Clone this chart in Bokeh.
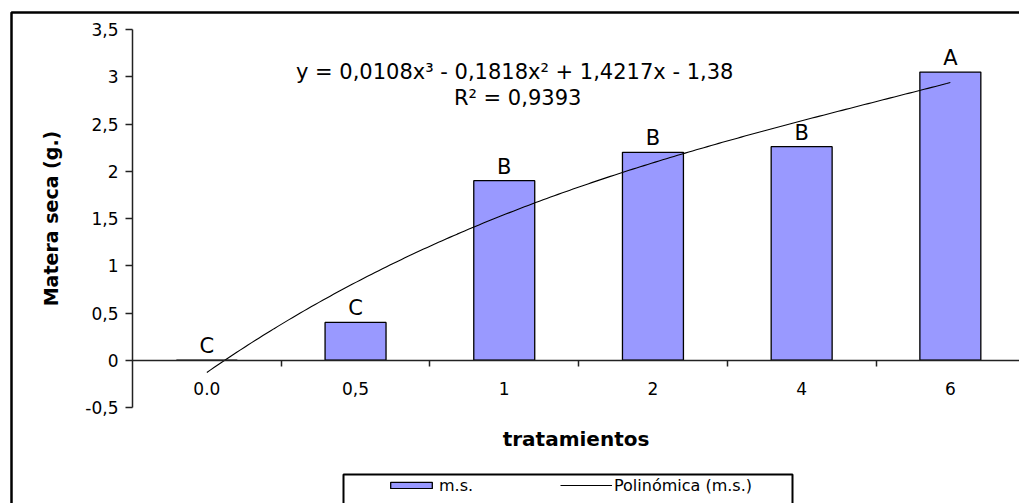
from bokeh.plotting import figure
from bokeh.models import (Range1d, FixedTicker, Label, Legend, LegendItem,
                          BoxAnnotation, ColumnDataSource)
from bokeh.core.properties import value
from bokeh.embed import file_html
from bokeh.resources import INLINE
import numpy as np

# ---- data ----
categories = ["0.0", "0,5", "1", "2", "4", "6"]
ms_values = [0.0, 0.4, 1.9, 2.2, 2.26, 3.05]
letters = ["C", "C", "B", "B", "B", "A"]
y_ticks = [-0.5, 0.0, 0.5, 1.0, 1.5, 2.0, 2.5, 3.0, 3.5]
y_tick_labels = ["-0,5", "0", "0,5", "1", "1,5", "2", "2,5", "3", "3,5"]
# Excel polynomial trend line (order 3), x = 1..6 for the categories
poly_coef = [0.0108, -0.1818, 1.4217, -1.38]
equation_text = "y = 0,0108x³ - 0,1818x² + 1,4217x - 1,38"
r2_text = "R² = 0,9393"

FONT = "DejaVu Sans"

# ---- layout (pixels) ----
W, H = 1019, 503
PLOT_LEFT, PLOT_TOP, PLOT_BOTTOM = 132, 29, 407
X_PX = 148.7                      # pixels per category
Y_LO, Y_HI = -0.5, 3.5
Y_PX = (PLOT_BOTTOM - PLOT_TOP) / (Y_HI - Y_LO)

x_start = -0.5 - PLOT_LEFT / X_PX
x_end = -0.5 + (W - PLOT_LEFT) / X_PX
y_end = Y_HI + PLOT_TOP / Y_PX
y_start = Y_LO - (H - PLOT_BOTTOM) / Y_PX

idx = list(range(len(categories)))
src = ColumnDataSource(dict(x=idx, top=ms_values, letter=letters))

p = figure(width=W, height=H, output_backend="svg", toolbar_location=None,
           title=None,
           x_range=Range1d(x_start, x_end), y_range=Range1d(y_start, y_end),
           min_border=0, background_fill_color="white",
           border_fill_color="white", outline_line_color=None)
p.xgrid.visible = False
p.ygrid.visible = False

# bars
bars = p.vbar(x="x", top="top", bottom=0, width=0.41, source=src,
              fill_color="#9999FF", line_color="black", line_width=1.3)

# trend line
xs = np.linspace(0, len(categories) - 1, 200)
ys = np.polyval(poly_coef, xs + 1)
trend = p.line(xs, ys, line_color="black", line_width=1.1)

# significance letters
p.text(x="x", y="top", text="letter", source=src, y_offset=-14,
       text_align="center", text_baseline="alphabetic",
       text_font=value(FONT), text_font_size="21px", text_color="black")

# y axis (drawn at the left edge of the plot area)
ya = p.yaxis[0]
ya.fixed_location = -0.5
ya.bounds = (Y_LO, Y_HI)
ya.ticker = FixedTicker(ticks=y_ticks)
ya.major_label_overrides = {t: l for t, l in zip(y_ticks, y_tick_labels)}
ya.minor_tick_line_color = None
ya.major_tick_in = 0
ya.major_tick_out = 7
ya.major_tick_line_color = "#222222"
ya.major_tick_line_width = 1.5
ya.axis_line_color = "#222222"
ya.axis_line_width = 1.5
ya.major_label_text_font = FONT
ya.major_label_text_font_size = "17px"
ya.major_label_text_color = "black"
ya.major_label_standoff = 7
ya.axis_label = "Matera seca (g.)"
ya.axis_label_text_font = FONT
ya.axis_label_text_font_style = "bold"
ya.axis_label_text_font_size = "19px"
ya.axis_label_text_color = "black"
ya.axis_label_standoff = 20

# x axis at y = 0
xa = p.xaxis[0]
xa.fixed_location = 0
xa.bounds = (-0.5, len(categories) - 0.5)
xa.ticker = FixedTicker(ticks=idx, minor_ticks=[i + 0.5 for i in idx])
xa.major_label_overrides = {i: c for i, c in zip(idx, categories)}
xa.major_tick_in = 0
xa.major_tick_out = 0
xa.minor_tick_in = 0
xa.minor_tick_out = 6
xa.minor_tick_line_color = "#222222"
xa.minor_tick_line_width = 1.5
xa.axis_line_color = "#222222"
xa.axis_line_width = 1.5
xa.major_label_text_font = FONT
xa.major_label_text_font_size = "17px"
xa.major_label_text_color = "black"
xa.major_label_standoff = 16
xa.axis_label = "tratamientos"
xa.axis_label_text_font = FONT
xa.axis_label_text_font_style = "bold"
xa.axis_label_text_font_size = "20px"
xa.axis_label_text_color = "black"
xa.axis_label_standoff = 28

# equation labels
p.add_layout(Label(x=2.07, y=3.05, text=equation_text, text_align="center",
                   text_baseline="alphabetic", text_font=FONT,
                   text_font_size="21px", text_color="black"))
p.add_layout(Label(x=2.09, y=2.78, text=r2_text, text_align="center",
                   text_baseline="alphabetic", text_font=FONT,
                   text_font_size="21px", text_color="black"))

# legend
legend = Legend(items=[LegendItem(label="m.s.", renderers=[bars]),
                       LegendItem(label="Polinómica (m.s.)", renderers=[trend])],
                orientation="horizontal", location=(385, 8), padding=0,
                margin=0, spacing=0, label_width=121, glyph_width=52,
                glyph_height=8, label_standoff=2, label_height=20,
                label_text_font=FONT, label_text_font_size="16px",
                label_text_color="black",
                border_line_color=None, background_fill_alpha=0)
p.add_layout(legend)

# legend frame and chart-area frame
p.add_layout(BoxAnnotation(left=343, right=792, top=474, bottom=700,
                           left_units="canvas", right_units="canvas",
                           top_units="canvas", bottom_units="canvas",
                           fill_color=None, fill_alpha=0,
                           line_color="black", line_alpha=1.0, line_width=2,
                           level="overlay"))
p.add_layout(BoxAnnotation(left=11, right=1200, top=12, bottom=700,
                           left_units="canvas", right_units="canvas",
                           top_units="canvas", bottom_units="canvas",
                           fill_color=None, fill_alpha=0,
                           line_color="black", line_alpha=1.0, line_width=2.5,
                           level="overlay"))

open("out.html", "w").write(file_html(p, INLINE))
